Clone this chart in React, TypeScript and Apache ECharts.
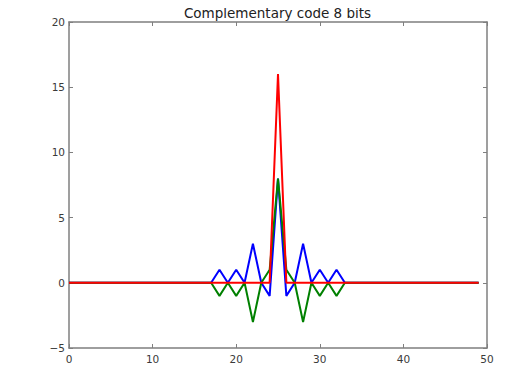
import React, { useEffect, useRef } from "react";
import * as echarts from "echarts";

const title = "Complementary code 8 bits";
const xValues = [
  0, 1, 2, 3, 4, 5, 6, 7, 8, 9, 10, 11, 12, 13, 14, 15, 16, 17, 18, 19, 20, 21, 22, 23, 24,
  25, 26, 27, 28, 29, 30, 31, 32, 33, 34, 35, 36, 37, 38, 39, 40, 41, 42, 43, 44, 45, 46, 47, 48, 49,
];
const blueValues = [
  0, 0, 0, 0, 0, 0, 0, 0, 0, 0, 0, 0, 0, 0, 0, 0, 0, 0, 1, 0, 1, 0, 3, 0, -1,
  8, -1, 0, 3, 0, 1, 0, 1, 0, 0, 0, 0, 0, 0, 0, 0, 0, 0, 0, 0, 0, 0, 0, 0, 0,
];
const greenValues = [
  0, 0, 0, 0, 0, 0, 0, 0, 0, 0, 0, 0, 0, 0, 0, 0, 0, 0, -1, 0, -1, 0, -3, 0, 1,
  8, 1, 0, -3, 0, -1, 0, -1, 0, 0, 0, 0, 0, 0, 0, 0, 0, 0, 0, 0, 0, 0, 0, 0, 0,
];
const redValues = [
  0, 0, 0, 0, 0, 0, 0, 0, 0, 0, 0, 0, 0, 0, 0, 0, 0, 0, 0, 0, 0, 0, 0, 0, 0,
  16, 0, 0, 0, 0, 0, 0, 0, 0, 0, 0, 0, 0, 0, 0, 0, 0, 0, 0, 0, 0, 0, 0, 0, 0,
];

const FONT = "DejaVu Sans";
const FRAME = "#7f7f7f";

export default function App() {
  const ref = useRef<HTMLDivElement>(null);
  useEffect(() => {
    if (!ref.current) return;
    const chart = echarts.init(ref.current, null, { renderer: "svg" });
    const toPairs = (ys: number[]) => xValues.map((x, i) => [x, ys[i]]);
    const lineSeries = (name: string, ys: number[], color: string) => ({
      name,
      type: "line",
      data: toPairs(ys),
      showSymbol: false,
      symbol: "none",
      lineStyle: { color, width: 2 },
      itemStyle: { color },
      z: 2,
    });
    const tickCommon = {
      axisTick: { show: true, inside: true, length: 4, lineStyle: { color: FRAME, width: 1 } },
      splitLine: { show: false },
    };
    chart.setOption({
      animation: false,
      backgroundColor: "#fff",
      grid: { left: 69, right: 42, top: 22, bottom: 34, show: false },
      xAxis: [
        {
          type: "value",
          min: 0,
          max: 50,
          interval: 10,
          position: "bottom",
          axisLine: { show: true, onZero: false, lineStyle: { color: FRAME, width: 1.5 } },
          axisLabel: { fontFamily: FONT, fontSize: 10.5, color: "#3a3a3a", margin: 5 },
          ...tickCommon,
        },
        {
          type: "value",
          min: 0,
          max: 50,
          interval: 10,
          position: "top",
          axisLine: { show: true, onZero: false, lineStyle: { color: FRAME, width: 1.5 } },
          axisLabel: { show: false },
          ...tickCommon,
        },
      ],
      yAxis: [
        {
          type: "value",
          min: -5,
          max: 20,
          interval: 5,
          position: "left",
          axisLine: { show: true, onZero: false, lineStyle: { color: FRAME, width: 1.5 } },
          axisLabel: {
            fontFamily: FONT,
            fontSize: 10.5,
            color: "#3a3a3a",
            margin: 4,
            formatter: (v: number) => (v < 0 ? "\u2212" + Math.abs(v) : String(v)),
          },
          ...tickCommon,
        },
        {
          type: "value",
          min: -5,
          max: 20,
          interval: 5,
          position: "right",
          axisLine: { show: true, onZero: false, lineStyle: { color: FRAME, width: 1.5 } },
          axisLabel: { show: false },
          ...tickCommon,
        },
      ],
      series: [
        lineSeries("a", blueValues, "#0000ff"),
        lineSeries("b", greenValues, "#008000"),
        lineSeries("sum", redValues, "#ff0000"),
      ],
      graphic: [
        {
          type: "text",
          x: 277.5,
          y: 20,
          style: {
            text: title,
            fontFamily: FONT,
            fontSize: 13.5,
            fill: "#222",
            textAlign: "center",
            textVerticalAlign: "bottom",
          },
        },
        {
          type: "line",
          shape: { x1: 0.5, y1: 0, x2: 0.5, y2: 382 },
          style: { stroke: "#e4e4e4", lineWidth: 1, lineDash: [2, 3] },
        },
      ],
    });
    return () => chart.dispose();
  }, []);
  return <div ref={ref} style={{ width: 529, height: 382, margin: -8 }} />;
}
